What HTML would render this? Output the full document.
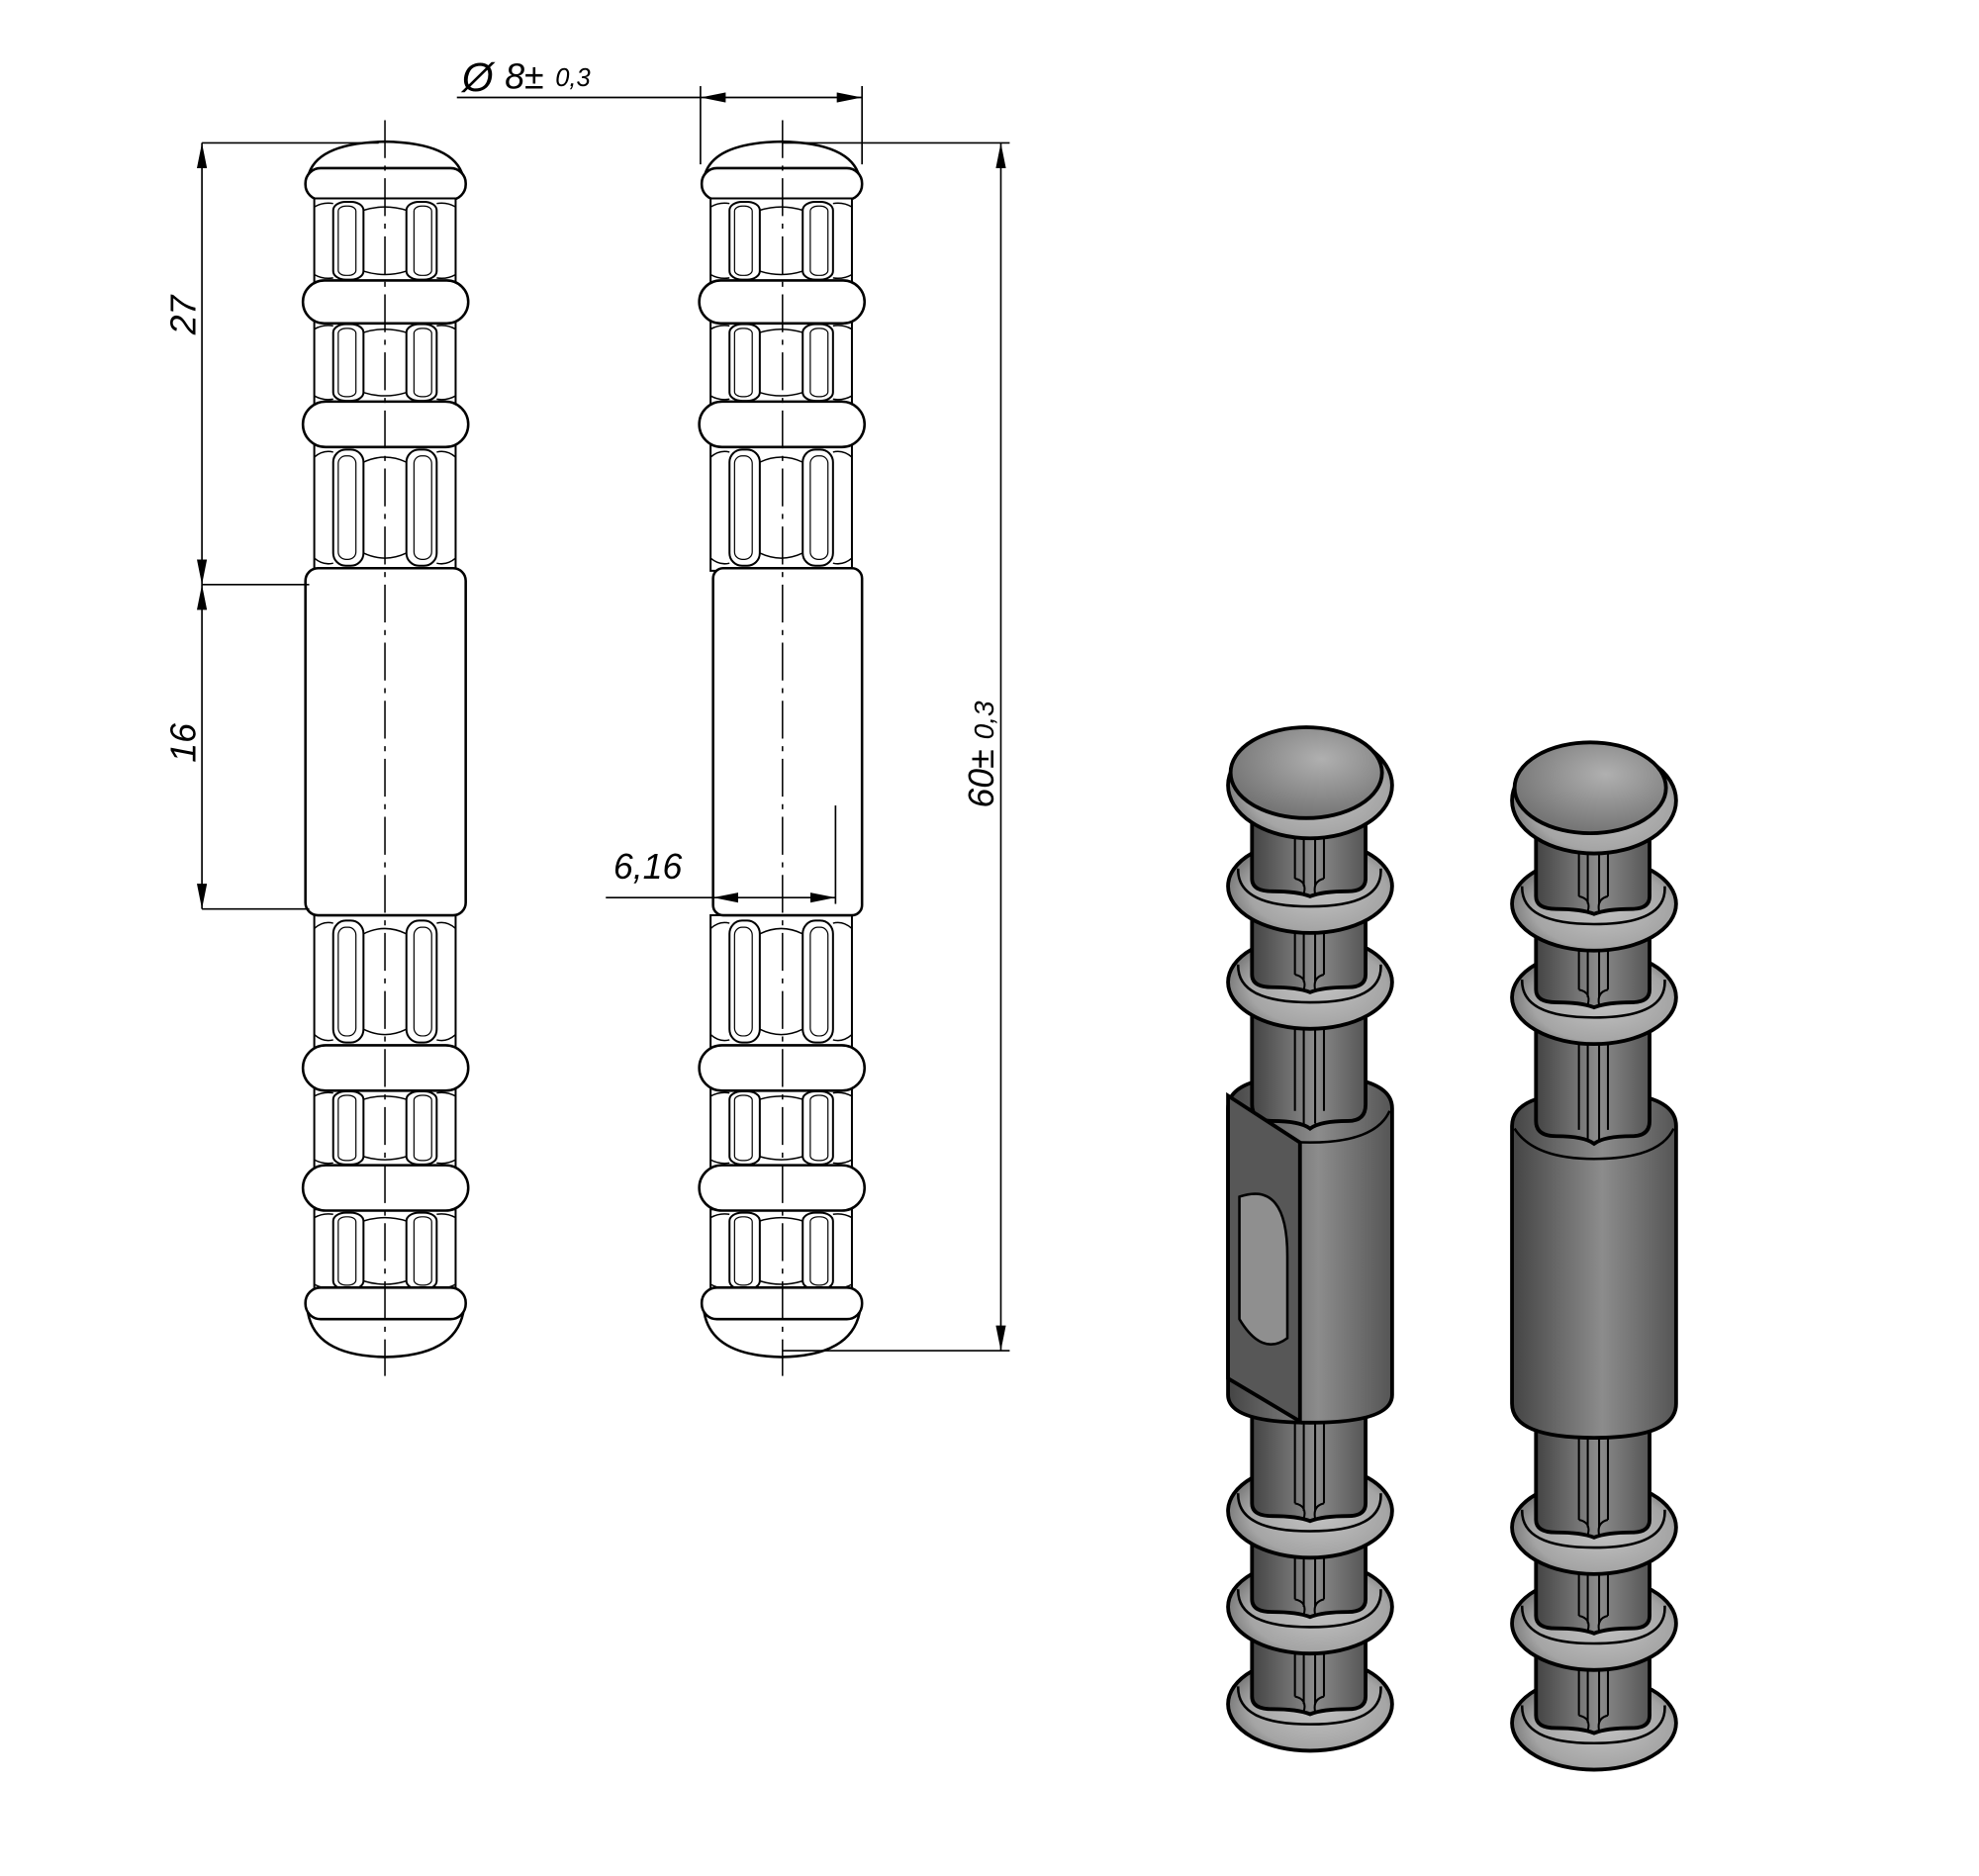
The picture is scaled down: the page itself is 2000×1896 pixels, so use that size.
<!DOCTYPE html>
<html><head><meta charset="utf-8"><style>html,body{margin:0;padding:0;background:#fff}svg{display:block}</style></head>
<body>
<svg width="2000" height="1896" viewBox="0 0 1568 1486" xmlns="http://www.w3.org/2000/svg">
<defs>
<marker id="ar" viewBox="0 0 20 8" refX="20" refY="4" markerWidth="20" markerHeight="8" orient="auto-start-reverse" markerUnits="userSpaceOnUse"><path d="M0,0 L20,4 L0,8 z" fill="#000"/></marker>
<linearGradient id="g3" x1="0" x2="1"><stop offset="0" stop-color="#444"/><stop offset="0.55" stop-color="#8c8c8c"/><stop offset="1" stop-color="#555"/></linearGradient>
<radialGradient id="gr" cx="0.55" cy="0.55" r="0.6"><stop offset="0" stop-color="#c2c2c2"/><stop offset="0.7" stop-color="#a5a5a5"/><stop offset="1" stop-color="#6e6e6e"/></radialGradient>
<radialGradient id="gc" cx="0.6" cy="0.35" r="0.7"><stop offset="0" stop-color="#b0b0b0"/><stop offset="1" stop-color="#707070"/></radialGradient>
<g id="rib" fill="none" stroke="#000">
<rect x="249" y="0" width="112" height="100" stroke-width="2" vector-effect="non-scaling-stroke" fill="#fff"/>
<rect x="264" y="4" width="24" height="92" rx="10" stroke-width="2" vector-effect="non-scaling-stroke"/>
<rect x="322" y="4" width="24" height="92" rx="10" stroke-width="2" vector-effect="non-scaling-stroke"/>
<rect x="268" y="9" width="14" height="82" rx="6" stroke-width="1.2" vector-effect="non-scaling-stroke"/>
<rect x="328" y="9" width="14" height="82" rx="6" stroke-width="1.2" vector-effect="non-scaling-stroke"/>
<path d="M288,14 Q305,6 322,14 M288,86 Q305,94 322,86 M249,10 Q256,4 264,6 M346,6 Q354,4 361,10 M249,90 Q256,96 264,94 M346,94 Q354,96 361,90" stroke-width="1.5" vector-effect="non-scaling-stroke"/>
</g>
<g id="seg" stroke="#000">
<ellipse cx="0" cy="0" rx="65" ry="37" fill="url(#gr)" stroke-width="3"/>
<path d="M-57,-14 Q-58,16 0,16 Q58,16 56,-14" fill="none" stroke-width="2"/>
<path d="M-46,-88 L-46,-6 Q-46,4 -30,4 Q-10,4 0,8 Q10,4 30,4 Q44,4 44,-6 L44,-88 z" fill="url(#g3)" stroke-width="3"/>
<path d="M-12,-88 L-12,-6 M-5,-88 L-5,0 M4,-88 L4,0 M11,-88 L11,-6 M-12,-6 Q-2,-4 -5,6 M11,-6 Q2,-4 4,6" fill="none" stroke-width="1.6"/>
</g>
<g id="pin2d" fill="#fff" stroke="#000" stroke-width="2">
<path d="M244,140 Q250,113 305,112 Q360,113 367,140 z"/>
<rect x="242" y="133" width="127" height="25" rx="12"/>
<use href="#rib" transform="translate(0,157) scale(1,0.67)"/>
<use href="#rib" transform="translate(0,254) scale(1,0.66)"/>
<use href="#rib" transform="translate(0,352) scale(1,1)"/>
<rect x="240" y="222" width="131" height="34" rx="17"/>
<rect x="240" y="318" width="131" height="36" rx="18"/>
<use href="#rib" transform="translate(0,725) scale(1,1.05)"/>
<use href="#rib" transform="translate(0,862) scale(1,0.63)"/>
<use href="#rib" transform="translate(0,958) scale(1,0.66)"/>
<rect x="240" y="828" width="131" height="36" rx="18"/>
<rect x="240" y="923" width="131" height="36" rx="18"/>
<path d="M244,1040 Q250,1074 305,1075 Q360,1074 367,1040 z"/>
<rect x="242" y="1020" width="127" height="25" rx="12"/>
</g>
</defs>
<use href="#pin2d"/>
<use href="#pin2d" transform="translate(314,0)"/>
<g fill="#fff" stroke="#000" stroke-width="2">
<rect x="242" y="450" width="127" height="275" rx="10"/>
<rect x="565" y="450" width="118" height="275" rx="8"/>
</g>
<g fill="none" stroke="#000">
<line x1="305" y1="95" x2="305" y2="1090" stroke-width="1.2" stroke-dasharray="30,6,4,6"/>
<line x1="620" y1="95" x2="620" y2="1090" stroke-width="1.2" stroke-dasharray="30,6,4,6"/>
<g stroke-width="1.3">
<line x1="160" y1="113" x2="300" y2="113"/>
<line x1="160" y1="463" x2="245" y2="463"/>
<line x1="160" y1="720" x2="245" y2="720"/>
<line x1="160" y1="113" x2="160" y2="463" marker-start="url(#ar)" marker-end="url(#ar)"/>
<line x1="160" y1="463" x2="160" y2="720" marker-start="url(#ar)" marker-end="url(#ar)"/>
<line x1="620" y1="113" x2="800" y2="113"/>
<line x1="620" y1="1070" x2="800" y2="1070"/>
<line x1="793" y1="113" x2="793" y2="1070" marker-start="url(#ar)" marker-end="url(#ar)"/>
<line x1="555" y1="68" x2="555" y2="130"/>
<line x1="683" y1="68" x2="683" y2="130"/>
<line x1="362" y1="77" x2="555" y2="77"/>
<line x1="555" y1="77" x2="683" y2="77" marker-start="url(#ar)" marker-end="url(#ar)"/>
<line x1="662" y1="638" x2="662" y2="716"/>
<line x1="480" y1="711" x2="565" y2="711"/>
<line x1="565" y1="711" x2="662" y2="711" marker-start="url(#ar)" marker-end="url(#ar)"/>
</g>
</g>
<g font-family="Liberation Sans, sans-serif" font-style="italic" fill="#000">
<text x="366" y="72" font-size="32">Ø</text>
<text x="400" y="70" font-size="28">8±</text>
<text x="440" y="68" font-size="20">0,3</text>
<text transform="translate(155,265) rotate(-90)" font-size="28">27</text>
<text transform="translate(155,604) rotate(-90)" font-size="28">16</text>
<text transform="translate(787,640) rotate(-90)" font-size="28">60± <tspan font-size="22">0,3</tspan></text>
<text x="486" y="696" font-size="28">6,16</text>
</g>
<!-- LEFT 3D -->
<g stroke="#000" stroke-width="3">
<use href="#seg" transform="translate(1038,1350)"/>
<use href="#seg" transform="translate(1038,1273)"/>
<use href="#seg" transform="translate(1038,1197)"/>
<path d="M973,878 Q973,852 1038,852 Q1103,852 1103,878 L1103,1105 Q1103,1127 1038,1127 Q973,1127 973,1105 z" fill="url(#g3)"/>
<path d="M975,880 Q990,905 1038,905 Q1090,905 1101,880" fill="none" stroke-width="2"/>
<path d="M992,770 L992,875 Q992,888 1008,888 Q1030,888 1038,894 Q1046,888 1068,888 Q1082,888 1082,875 L1082,770 z" fill="url(#g3)"/>
<path d="M1026,770 L1026,880 M1033,770 L1033,890 M1042,770 L1042,890 M1049,770 L1049,880" stroke-width="1.6"/>
<path d="M973,868 L1030,905 L1030,1126 L973,1092 z" fill="#575757"/>
<path d="M982,948 Q1020,935 1020,995 L1020,1060 Q1000,1075 982,1045 z" fill="#8f8f8f" stroke-width="2"/>
<use href="#seg" transform="translate(1038,778)"/>
<use href="#seg" transform="translate(1038,702)"/>
<ellipse cx="1038" cy="622" rx="65" ry="42" fill="url(#gr)"/>
<ellipse cx="1035" cy="612" rx="60" ry="36" fill="url(#gc)"/>
</g>
<!-- RIGHT 3D -->
<g stroke="#000" stroke-width="3">
<use href="#seg" transform="translate(1263,1365)"/>
<use href="#seg" transform="translate(1263,1286)"/>
<use href="#seg" transform="translate(1263,1210)"/>
<path d="M1198,892 Q1198,865 1263,865 Q1328,865 1328,892 L1328,1112 Q1328,1139 1263,1139 Q1198,1139 1198,1112 z" fill="url(#g3)"/>
<path d="M1200,894 Q1215,918 1263,918 Q1315,918 1326,894" fill="none" stroke-width="2"/>
<path d="M1217,790 L1217,888 Q1217,900 1233,900 Q1255,900 1263,906 Q1271,900 1293,900 Q1307,900 1307,888 L1307,790 z" fill="url(#g3)"/>
<path d="M1251,790 L1251,895 M1258,790 L1258,903 M1267,790 L1267,903 M1274,790 L1274,895" stroke-width="1.6"/>
<use href="#seg" transform="translate(1263,790)"/>
<use href="#seg" transform="translate(1263,716)"/>
<ellipse cx="1263" cy="634" rx="65" ry="42" fill="url(#gr)"/>
<ellipse cx="1260" cy="624" rx="60" ry="36" fill="url(#gc)"/>
</g>
</svg>
</body></html>
